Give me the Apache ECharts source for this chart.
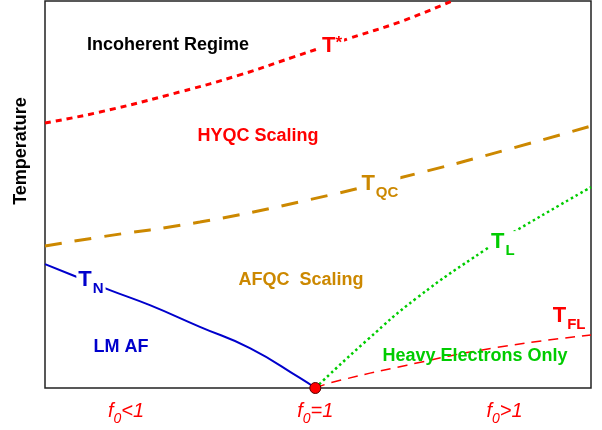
<!DOCTYPE html>
<html>
<head>
<meta charset="utf-8">
<script src="https://cdn.jsdelivr.net/npm/echarts@6/dist/echarts.min.js"></script>
<style>
  html, body { margin: 0; padding: 0; background: #fff; }
  #main { width: 602px; height: 430px; }
</style>
</head>
<body>
<div id="main"></div>
<script>
// phase boundaries, x: 0..2.02 (f0 = 1 at x = 1), y: temperature 0..10 (arbitrary)
var tStar = [[0, 6.85], [0.203, 7.13], [0.499, 7.65], [0.721, 8.09], [0.918, 8.55], [1.128, 9.04], [1.313, 9.46], [1.506, 10.0]];
var tQC = [[0, 3.67], [0.203, 3.90], [0.573, 4.29], [0.943, 4.81], [1.387, 5.56], [1.731, 6.20], [2.02, 6.77]];
var tN = [[0, 3.20], [0.1, 2.92], [0.240, 2.53], [0.388, 2.14], [0.573, 1.58], [0.758, 1.03], [0.943, 0.26], [1, 0]];
var tL = [[1, 0], [1.192, 1.24], [1.376, 2.33], [1.628, 3.57], [1.746, 4.08], [2.02, 5.19]];
var tFL = [[1, 0], [1.067, 0.155], [1.339, 0.59], [1.657, 1.03], [2.02, 1.37]];
var qcp = [[1, 0]];

// x tick labels
var tickValues = [0.3, 1, 1.7];
var tickText = ['<1', '=1', '>1'];

var myChart = echarts.init(document.getElementById('main'));

var FONT = 'Liberation Sans, Arial, sans-serif';

function note(x, y, text, color) {
	return {
		value: [x, y],
		label: {
			show: true,
			position: 'inside',
			formatter: text,
			color: color,
			fontFamily: FONT,
			fontWeight: 'bold',
			fontSize: 18
		}
	};
}

function curveLabel(x, y, sub, color, sup) {
	return {
		value: [x, y],
		label: {
			show: true,
			position: 'inside',
			formatter: '{t|T}{' + (sup ? 'u' : 's') + '|' + sub + '}',
			backgroundColor: '#fff',
			padding: [0, 2],
			rich: {
				t: { color: color, fontFamily: FONT, fontWeight: 'bold', fontSize: 22, verticalAlign: 'bottom' },
				s: { color: color, fontFamily: FONT, fontWeight: 'bold', fontSize: 15, verticalAlign: 'bottom', padding: [0, 0, -5, 1] },
				u: { color: color, fontFamily: FONT, fontWeight: 'bold', fontSize: 17, verticalAlign: 'bottom', padding: [0, 0, 6, 0] }
			}
		}
	};
}

var option = {
	animation: false,
	grid: { left: 45, right: 11, top: 1, bottom: 42, show: true, borderColor: '#222', borderWidth: 1.5, backgroundColor: 'transparent' },
	xAxis: {
		type: 'value', min: 0, max: 2.02,
		axisLine: { show: false },
		axisTick: { show: false },
		splitLine: { show: false },
		axisLabel: {
			customValues: tickValues,
			margin: 13,
			formatter: function (v) {
				var i = tickValues.indexOf(v);
				return i < 0 ? '' : '{f|f}{z|0}{r|' + tickText[i] + '}';
			},
			rich: {
				f: { color: '#ff0000', fontFamily: FONT, fontStyle: 'italic', fontSize: 20, verticalAlign: 'bottom' },
				z: { color: '#ff0000', fontFamily: FONT, fontStyle: 'italic', fontSize: 14, verticalAlign: 'bottom', padding: [0, 0, -5, 0] },
				r: { color: '#ff0000', fontFamily: FONT, fontStyle: 'italic', fontSize: 20, verticalAlign: 'bottom' }
			}
		}
	},
	yAxis: {
		type: 'value', min: 0, max: 10,
		axisLine: { show: false },
		axisTick: { show: false },
		axisLabel: { show: false },
		splitLine: { show: false }
	},
	graphic: [{
		type: 'text', x: 21, y: 151, rotation: Math.PI / 2,
		style: { text: 'Temperature', fill: '#000', font: 'bold 18px Liberation Sans, Arial, sans-serif', textAlign: 'center', textVerticalAlign: 'middle' }
	}],
	series: [
		{ name: 'T*', type: 'line', smooth: true, symbol: 'none', data: tStar,
		  lineStyle: { color: '#ff0000', width: 3, type: [6, 5] } },
		{ name: 'TQC', type: 'line', smooth: true, symbol: 'none', data: tQC,
		  lineStyle: { color: '#cc8800', width: 3, type: [17, 13] } },
		{ name: 'TN', type: 'line', smooth: true, symbol: 'none', data: tN,
		  lineStyle: { color: '#0000cc', width: 2 } },
		{ name: 'TL', type: 'line', smooth: true, symbol: 'none', data: tL,
		  lineStyle: { color: '#00cc00', width: 2.5, type: [2.5, 3] } },
		{ name: 'TFL', type: 'line', smooth: true, symbol: 'none', data: tFL,
		  lineStyle: { color: '#ff0000', width: 1.5, type: [10, 7] } },
		{ name: 'notes', type: 'scatter', symbolSize: 0, clip: false, z: 5,
		  itemStyle: { opacity: 1 },
		  emphasis: { disabled: true },
		  data: [
			note(0.455, 8.86, 'Incoherent Regime', '#000'),
			note(0.788, 6.51, 'HYQC Scaling', '#ff0000'),
			note(0.947, 2.79, 'AFQC  Scaling', '#cc8800'),
			note(0.281, 1.06, 'LM AF', '#0000cc'),
			note(1.591, 0.83, 'Heavy Electrons Only', '#00cc00'),
			curveLabel(1.062, 8.84, '*', '#ff0000', true),
			curveLabel(1.239, 5.27, 'QC', '#cc8800'),
			curveLabel(0.170, 2.79, 'N', '#0000cc'),
			curveLabel(1.694, 3.77, 'L', '#00cc00'),
			curveLabel(1.939, 1.86, 'FL', '#ff0000')
		  ] },
		{ name: 'QCP', type: 'scatter', symbolSize: 11, clip: false, z: 6, data: qcp,
		  itemStyle: { color: '#ff0000', borderColor: '#550000', borderWidth: 1, opacity: 1 } }
	]
};
myChart.setOption(option);
</script>
</body>
</html>
